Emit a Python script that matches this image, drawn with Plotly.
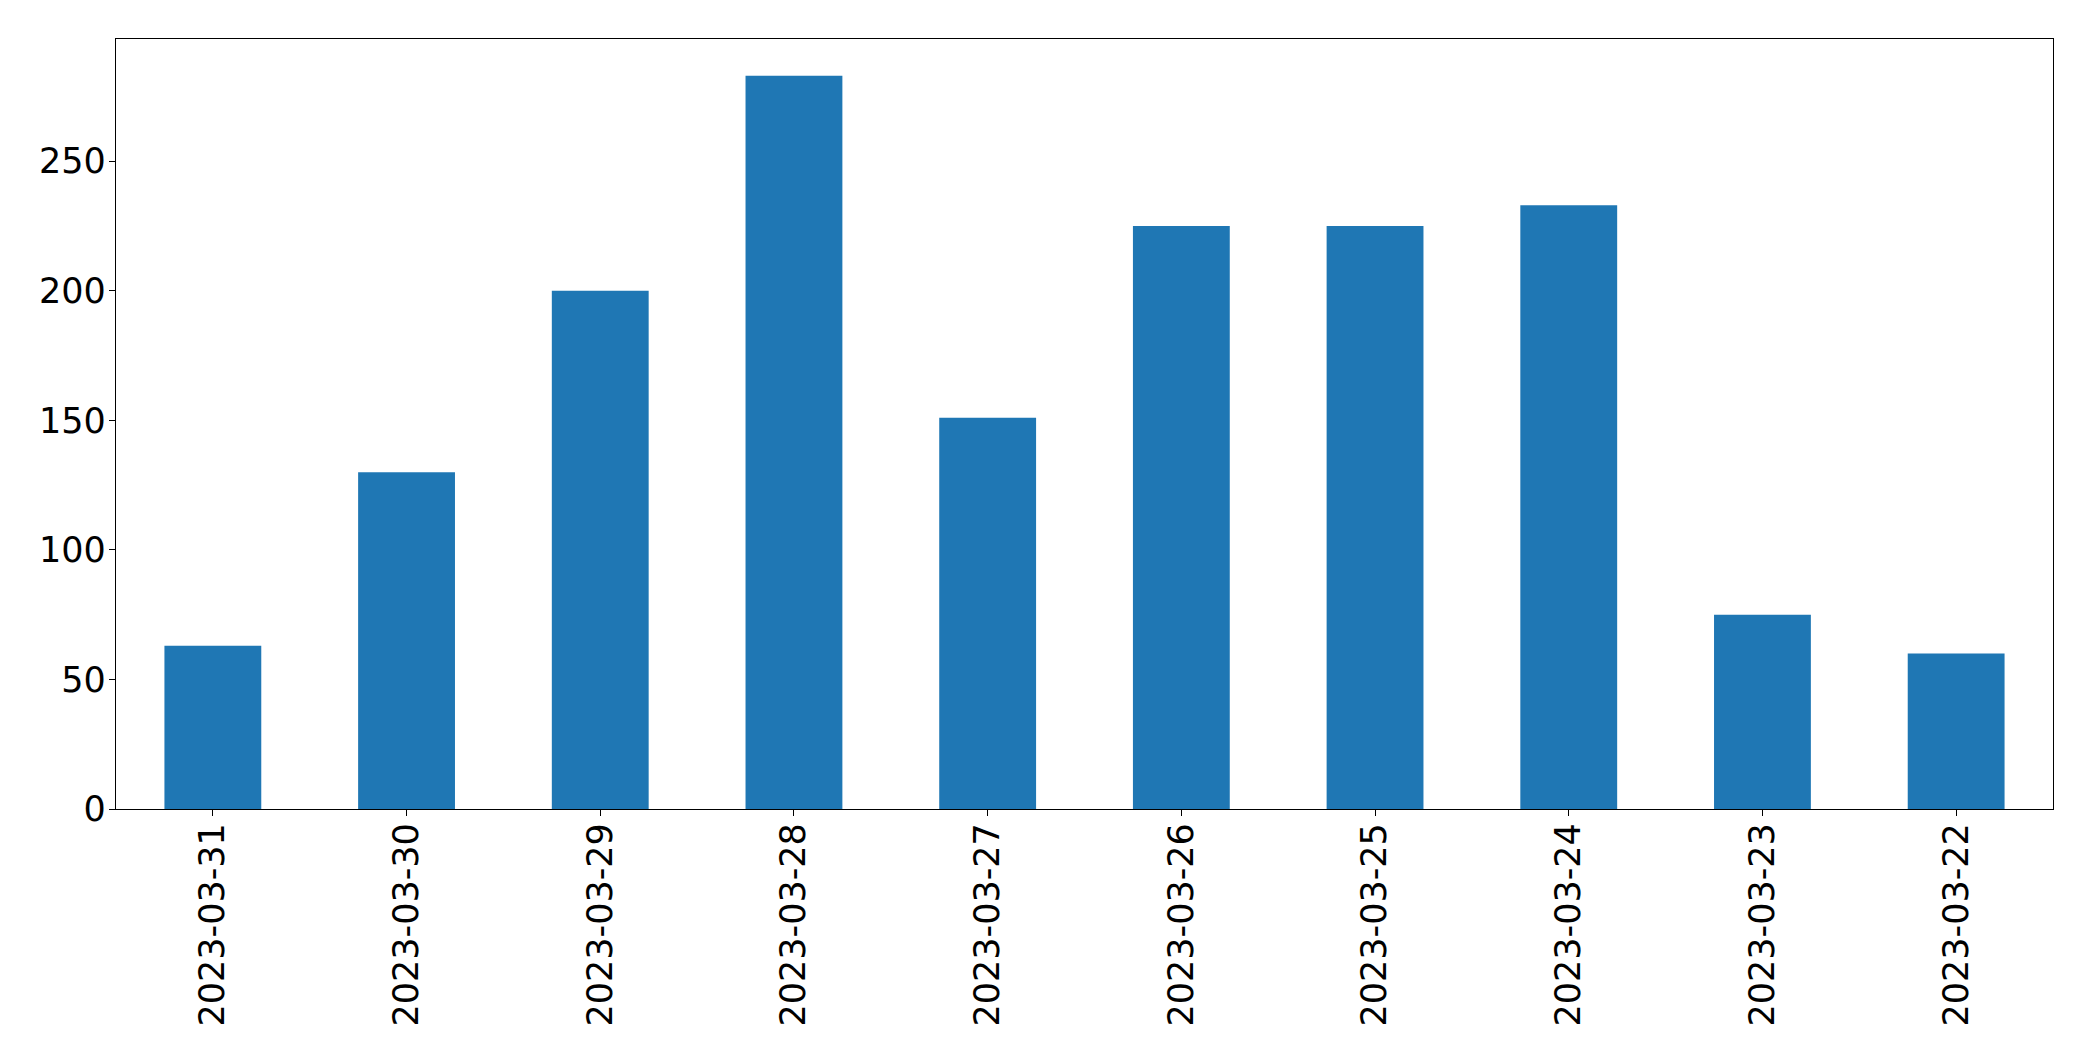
import plotly.graph_objects as go

dates = ["2023-03-31", "2023-03-30", "2023-03-29", "2023-03-28", "2023-03-27",
         "2023-03-26", "2023-03-25", "2023-03-24", "2023-03-23", "2023-03-22"]
counts = [63, 130, 200, 283, 151, 225, 225, 233, 75, 60]
y_ticks = [0, 50, 100, 150, 200, 250]

fig = go.Figure(go.Bar(x=dates, y=counts, width=0.5, marker=dict(color="#1f77b4", line=dict(width=0))))

font = dict(family="DejaVu Sans", size=35, color="black")
fig.update_layout(
    width=2093, height=1061,
    margin=dict(l=116, r=40, t=39, b=252),
    paper_bgcolor="white", plot_bgcolor="white",
    showlegend=False,
    font=font,
)
fig.update_xaxes(
    type="category", range=[-0.5, len(dates) - 0.5],
    showline=True, mirror=True, linecolor="black", linewidth=1.3,
    ticks="outside", ticklen=6, tickwidth=1.3, tickcolor="black",
    tickangle=-90, tickfont=font, showgrid=False, zeroline=False,
    ticklabelstandoff=-7, automargin=False,
)
fig.update_yaxes(
    range=[0, max(counts) * 1.05], tickvals=y_ticks,
    showline=True, mirror=True, linecolor="black", linewidth=1.3,
    ticks="outside", ticklen=6, tickwidth=1.3, tickcolor="black",
    tickfont=font, showgrid=False, zeroline=False,
    ticklabelstandoff=-4, automargin=False,
)
fig.write_html("out.html")
